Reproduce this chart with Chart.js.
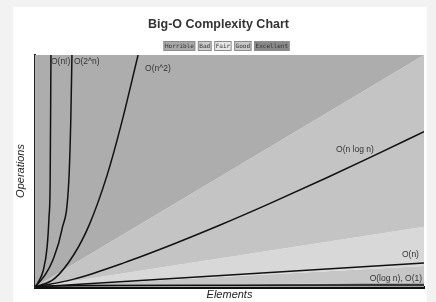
<!DOCTYPE html>
<html>
<head>
<meta charset="utf-8">
<script src="https://cdn.jsdelivr.net/npm/chart.js@4"></script>
<style>
  html, body { margin: 0; padding: 0; background: #f2f2f2; }
  #card { position: absolute; left: 13px; top: 7px; width: 414px; height: 295px; background: #fff; }
</style>
</head>
<body>
<div id="card"><canvas id="myChart"></canvas></div>
<script>
// zones (straight boundaries out of the origin)
const zoneX = [0, 100];
const horribleY = [0, 100];
const badY = [0, 26];
const fairY = [0, 9];
const goodY = [0, 2];

// curves
const factX = [0, 0.8, 2.1, 3.1, 3.6, 3.9, 4.1];
const factY = [0, 2, 7, 17, 30, 46, 100];
const expX = [0, 2.6, 4.6, 6.9, 8.7, 9.2, 9.5];
const expY = [0, 5.2, 11.6, 24.6, 46, 72, 100];
const sqX = [0, 5, 10, 14, 18.5, 22, 26.5];
const sqY = [0, 3.6, 14, 27, 48, 69, 100];
const nlognX = [0, 10, 23, 35, 47.6, 60, 75, 87, 100];
const nlognY = [0, 3.4, 10.5, 18.1, 26.7, 35.7, 47.1, 56.5, 67];
const linX = [0, 100];
const linY = [0, 10.3];
const logX = [0, 1, 10, 50, 100];
const logY = [0, 0.3, 0.6, 0.8, 0.9];

const curveLabels = ['O(n!)', 'O(2^n)', 'O(n^2)', 'O(n log n)', 'O(n)', 'O(log n), O(1)'];
const labelX = [4.1, 10, 28.3, 77.4, 98.7, 99.5];
const labelY = [97, 97, 94, 59, 13.8, 3.4];

const legendLabels = ['Horrible', 'Bad', 'Fair', 'Good', 'Excellent'];
const legendColors = ['#a9a9a9', '#cacaca', '#e6e6e6', '#c8c8c8', '#8a8a8a'];

function pts(xs, ys) {
  return xs.map((x, i) => ({ x: x, y: ys[i] }));
}

function zone(ys, color, fill) {
  return { data: pts(zoneX, ys), backgroundColor: color, borderWidth: 0, pointRadius: 0, fill: fill };
}

function curve(xs, ys) {
  return { data: pts(xs, ys), borderColor: '#111', borderWidth: 1.5, pointRadius: 0,
    fill: false, cubicInterpolationMode: 'monotone' };
}

const extras = {
  id: 'extras',
  afterDatasetsDraw(chart) {
    const ctx = chart.ctx;
    const xs = chart.scales.x, ys = chart.scales.y;
    ctx.save();
    ctx.fillStyle = '#333';
    ctx.font = '8.5px "Liberation Sans", Arial, sans-serif';
    ctx.textBaseline = 'middle';
    curveLabels.forEach((t, i) => {
      ctx.textAlign = i >= 4 ? 'right' : 'left';
      ctx.fillText(t, xs.getPixelForValue(labelX[i]), ys.getPixelForValue(labelY[i]));
    });

    // little boxed legend under the title
    const area = chart.chartArea;
    ctx.font = '6px "DejaVu Sans Mono", monospace';
    const gap = 2.5, pad = 1.5, h = 10;
    const widths = legendLabels.map((t) => ctx.measureText(t).width + pad * 2);
    const total = widths.reduce((a, b) => a + b, 0) + gap * (widths.length - 1);
    let x = (area.left + area.right) / 2 - total / 2 - 3;
    const top = area.top - 14;
    ctx.textAlign = 'center';
    legendLabels.forEach((t, i) => {
      ctx.fillStyle = legendColors[i];
      ctx.fillRect(x, top, widths[i], h);
      ctx.strokeStyle = '#8c8c8c';
      ctx.lineWidth = 1;
      ctx.strokeRect(x + 0.5, top + 0.5, widths[i] - 1, h - 1);
      ctx.fillStyle = '#333';
      ctx.fillText(t, x + widths[i] / 2, top + h / 2 + 0.5);
      x += widths[i] + gap;
    });
    ctx.restore();
  }
};

const config = {
  type: 'line',
  data: {
    datasets: [
      curve(factX, factY),
      curve(expX, expY),
      curve(sqX, sqY),
      curve(nlognX, nlognY),
      curve(linX, linY),
      curve(logX, logY),
      zone(horribleY, '#adadad', 'end'),
      zone(badY, '#c4c4c4', '-1'),
      zone(fairY, '#d8d8d8', '-1'),
      zone(goodY, '#c6c6c6', '-1'),
      zone(goodY, '#a6a6a6', 'start')
    ]
  },
  options: {
    responsive: true,
    maintainAspectRatio: false,
    animation: false,
    layout: { padding: { left: 0, right: 3, top: 0, bottom: 0 } },
    plugins: {
      legend: { display: false },
      tooltip: { enabled: false },
      title: {
        display: true,
        text: 'Big-O Complexity Chart',
        color: '#333',
        font: { family: '"Liberation Sans", Arial, sans-serif', size: 12.5, weight: 'bold' },
        padding: { top: 10, bottom: 23 }
      }
    },
    scales: {
      x: {
        type: 'linear', min: 0, max: 100,
        ticks: { display: false },
        grid: { display: false },
        border: { display: true, color: '#111', width: 3 },
        title: { display: true, text: 'Elements', color: '#222',
          font: { family: '"Liberation Sans", Arial, sans-serif', size: 11, style: 'italic' },
          padding: { top: 0, bottom: 0 } },
        afterFit: (scale) => { scale.height = 15; }
      },
      y: {
        type: 'linear', min: 0, max: 100,
        ticks: { display: false },
        grid: { display: false },
        border: { display: true, color: '#222', width: 2 },
        title: { display: true, text: 'Operations', color: '#222',
          font: { family: '"Liberation Sans", Arial, sans-serif', size: 11, style: 'italic' },
          padding: { top: 1, bottom: 0 } },
        afterFit: (scale) => { scale.width = 22; }
      }
    }
  },
  plugins: [extras]
};

new Chart(document.querySelector('#myChart'), config);
</script>
</body>
</html>
